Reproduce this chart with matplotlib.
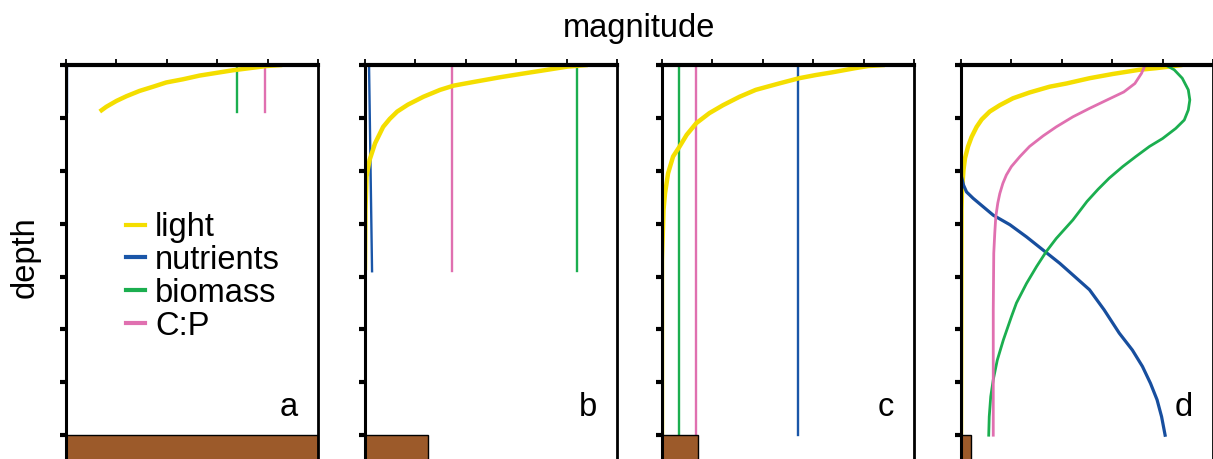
import numpy as np
import matplotlib.pyplot as plt
from matplotlib.lines import Line2D

plt.rcParams['font.family'] = ['Liberation Sans', 'DejaVu Sans']

# colours
col_light = '#F4DE00'
col_nutr = '#1A56A8'
col_bio = '#1BAE4F'
col_cp = '#E070B0'
col_sed = '#9C5A2A'

# --- panel a ---
a_light_x = [4.29, 3.97, 3.64, 3.31, 2.98, 2.65, 2.32, 1.99, 1.73, 1.46, 1.20, 1.00, 0.80, 0.67]
a_light_d = [0.0, 0.02, 0.06, 0.10, 0.15, 0.20, 0.27, 0.33, 0.41, 0.49, 0.59, 0.68, 0.79, 0.88]
a_nutr = 0.02
a_bio = 3.40
a_cp = 3.95
a_bottom = 0.89
a_sed = 5.0

# --- panel b ---
b_light_x = [4.42, 4.02, 3.62, 3.15, 2.69, 2.16, 1.76, 1.49, 1.16, 0.85, 0.64, 0.49,
             0.36, 0.20, 0.09, 0.03, 0.01, 0.0]
b_light_d = [0.0, 0.03, 0.09, 0.16, 0.23, 0.32, 0.39, 0.47, 0.60, 0.75, 0.88, 1.02,
             1.17, 1.48, 1.80, 2.11, 2.74, 3.88]
b_nutr_x = [0.08, 0.14]
b_bio = 4.2
b_cp = 1.73
b_bottom = 3.9
b_sed = 1.25

# --- panel c ---
c_light_x = [4.42, 4.09, 3.83, 3.37, 3.05, 2.72, 2.32, 1.86, 1.54, 1.21, 0.94, 0.68,
             0.49, 0.35, 0.22, 0.12, 0.06, 0.03, 0.02, 0.0, 0.0]
c_light_d = [0.0, 0.02, 0.06, 0.14, 0.19, 0.25, 0.35, 0.47, 0.60, 0.76, 0.91, 1.10,
             1.32, 1.54, 1.73, 2.05, 2.43, 2.74, 3.06, 3.7, 7.0]
c_nutr = 2.7
c_bio = 0.33
c_cp = 0.67
c_bottom = 7.0
c_sed = 0.71

# --- panel d ---
d_light_x = [4.39, 3.87, 3.54, 3.01, 2.55, 2.09, 1.76, 1.36, 1.03, 0.77, 0.57, 0.41,
             0.31, 0.21, 0.14, 0.08, 0.05, 0.02, 0.01, 0.0]
d_light_d = [0.0, 0.06, 0.09, 0.17, 0.25, 0.35, 0.41, 0.52, 0.63, 0.76, 0.88, 1.03,
             1.17, 1.36, 1.54, 1.76, 1.98, 2.36, 2.74, 7.0]
d_cp_x = [3.64, 3.58, 3.45, 3.23, 2.90, 2.55, 2.22, 1.89, 1.63, 1.36, 1.17, 1.0,
          0.90, 0.83, 0.77, 0.73, 0.69, 0.67, 0.65, 0.64, 0.64]
d_cp_d = [0.03, 0.16, 0.35, 0.51, 0.66, 0.82, 0.98, 1.17, 1.34, 1.54, 1.73, 1.92,
          2.08, 2.24, 2.43, 2.61, 2.87, 3.18, 3.56, 4.63, 7.0]
d_bio_x = [4.06, 4.23, 4.39, 4.51, 4.54, 4.51, 4.43, 4.26, 4.00, 3.74, 3.47, 3.21,
           2.94, 2.72, 2.50, 2.22, 1.89, 1.69, 1.50, 1.30, 1.10, 1.0, 0.84, 0.72,
           0.64, 0.59, 0.56, 0.55]
d_bio_d = [0.0, 0.09, 0.25, 0.47, 0.66, 0.85, 1.04, 1.20, 1.39, 1.54, 1.73, 1.92,
           2.14, 2.35, 2.58, 2.93, 3.28, 3.53, 3.81, 4.13, 4.50, 4.76, 5.20, 5.58,
           5.95, 6.27, 6.65, 7.0]
d_nutr_x = [0.0, 0.01, 0.05, 0.11, 0.24, 0.44, 0.64, 0.97, 1.30, 1.63, 1.96, 2.22,
            2.55, 2.84, 3.14, 3.40, 3.60, 3.76, 3.89, 3.98, 4.05]
d_nutr_d = [0.0, 2.11, 2.27, 2.40, 2.52, 2.68, 2.84, 3.02, 3.25, 3.50, 3.75, 3.97,
            4.25, 4.63, 5.07, 5.39, 5.70, 6.02, 6.33, 6.65, 7.0]
d_sed = 0.2

labels = ['a', 'b', 'c', 'd']
lefts = [66, 365, 662, 961]

fig = plt.figure(figsize=(12.13, 4.59), dpi=100)
axes = []
for L in lefts:
    ax = fig.add_axes([L / 1213, 0, 252 / 1213, 394 / 459])
    axes.append(ax)

fs = 23.5
vlw = 1.7
for ax, lab in zip(axes, labels):
    ax.set_xlim(0, 5)
    ax.set_ylim(7.45, 0)
    ax.xaxis.tick_top()
    ax.set_xticks(np.arange(6))
    ax.set_yticks(np.arange(8))
    ax.set_xticklabels([])
    ax.set_yticklabels([])
    ax.tick_params(axis='x', direction='out', length=4, width=1.3, color='black')
    ax.tick_params(axis='y', direction='out', length=4.5, width=3, color='black')
    ax.spines['bottom'].set_visible(False)
    ax.spines['top'].set_linewidth(3)
    ax.spines['left'].set_linewidth(2.2)
    ax.spines['right'].set_linewidth(2)
    for s in ax.spines.values():
        s.set_zorder(5)
    ax.text(4.6, 6.48, lab, fontsize=fs, ha='right', va='center')

# a
ax = axes[0]
ax.plot([a_nutr, a_nutr], [0, a_bottom], color=col_nutr, lw=vlw)
ax.plot([a_bio, a_bio], [0, a_bottom], color=col_bio, lw=vlw)
ax.plot([a_cp, a_cp], [0, a_bottom], color=col_cp, lw=vlw)
ax.plot(a_light_x, a_light_d, color=col_light, lw=3.2, solid_capstyle='butt')
ax.bar(0, 1.0, width=a_sed, bottom=7.0, align='edge', color=col_sed, edgecolor='black', lw=1, zorder=4)

# b
ax = axes[1]
ax.plot(b_nutr_x, [0, b_bottom], color=col_nutr, lw=vlw)
ax.plot([b_bio, b_bio], [0, b_bottom], color=col_bio, lw=vlw)
ax.plot([b_cp, b_cp], [0, b_bottom], color=col_cp, lw=vlw)
ax.plot(b_light_x, b_light_d, color=col_light, lw=3.2, solid_capstyle='butt')
ax.bar(0, 1.0, width=b_sed, bottom=7.0, align='edge', color=col_sed, edgecolor='black', lw=1, zorder=4)

# c
ax = axes[2]
ax.plot([c_nutr, c_nutr], [0, c_bottom], color=col_nutr, lw=vlw)
ax.plot([c_bio, c_bio], [0, c_bottom], color=col_bio, lw=vlw)
ax.plot([c_cp, c_cp], [0, c_bottom], color=col_cp, lw=vlw)
ax.plot(c_light_x, c_light_d, color=col_light, lw=3.2, solid_capstyle='butt')
ax.bar(0, 1.0, width=c_sed, bottom=7.0, align='edge', color=col_sed, edgecolor='black', lw=1, zorder=4)

# d
ax = axes[3]
ax.plot(d_light_x, d_light_d, color=col_light, lw=3.2, solid_capstyle='butt')
ax.plot(d_nutr_x, d_nutr_d, color='#174E9E', lw=2.3)
ax.plot(d_bio_x, d_bio_d, color=col_bio, lw=2.0)
ax.plot(d_cp_x, d_cp_d, color=col_cp, lw=2.0)
ax.bar(0, 1.0, width=d_sed, bottom=7.0, align='edge', color=col_sed, edgecolor='black', lw=1, zorder=4)

# legend in panel a
handles = [Line2D([], [], color=c, lw=3) for c in [col_light, col_nutr, col_bio, col_cp]]
axes[0].legend(handles, ['light', 'nutrients', 'biomass', 'C:P'], loc='upper left',
               bbox_to_anchor=(0.237, 0.627), frameon=False, fontsize=fs,
               handlelength=0.6, handletextpad=0.3, labelspacing=0.06, borderpad=0,
               borderaxespad=0)

fig.text(639 / 1213, 1 - 28 / 459, 'magnitude', fontsize=fs, ha='center', va='center')
fig.text(25 / 1213, 1 - 257 / 459, 'depth', fontsize=fs, ha='center', va='center', rotation=90)

fig.savefig('out.png', dpi=100)
